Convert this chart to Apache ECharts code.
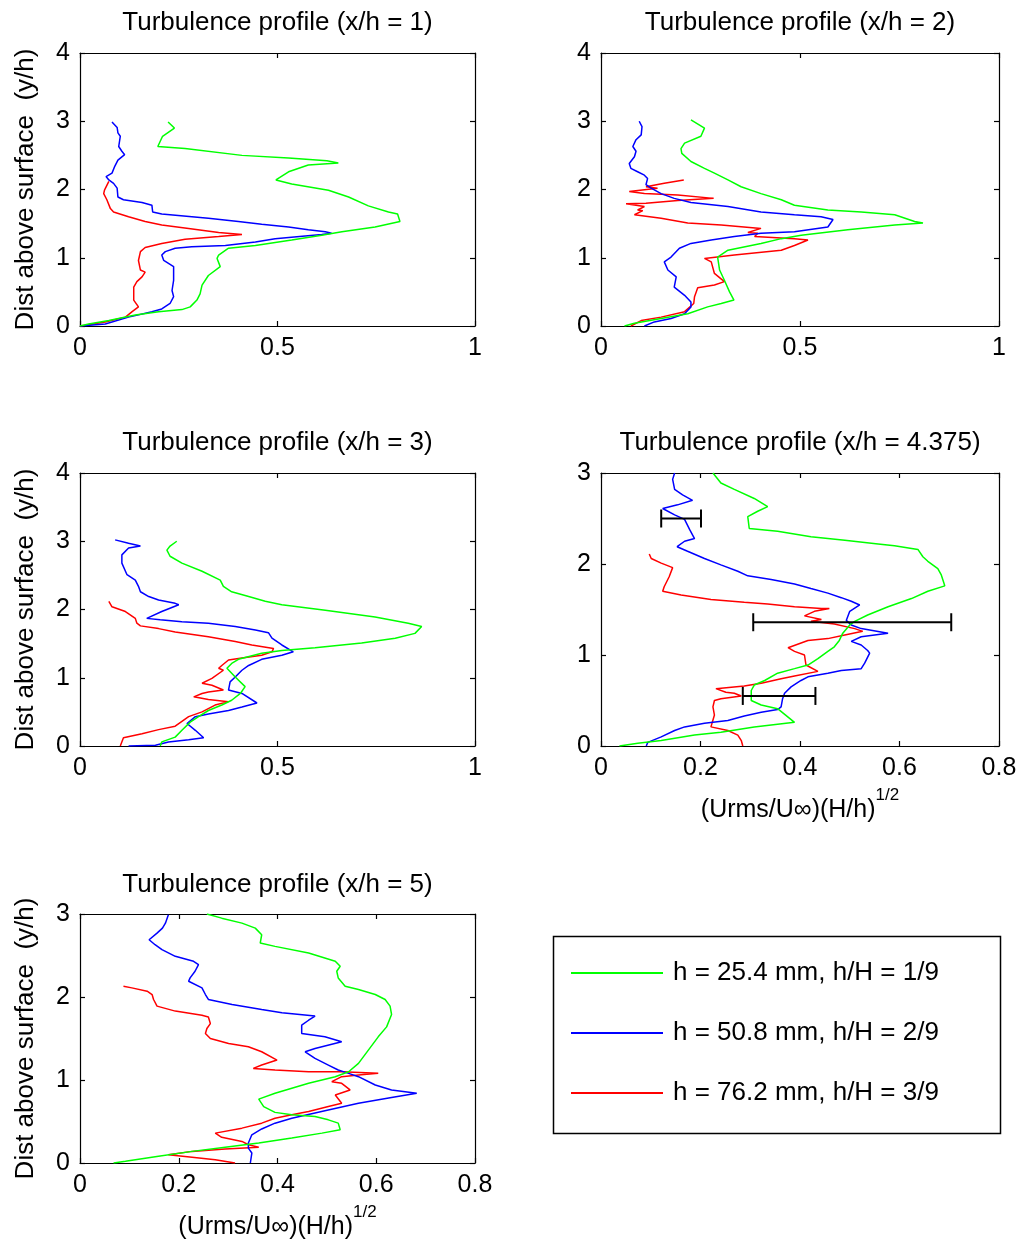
<!DOCTYPE html>
<html><head><meta charset="utf-8">
<script src="https://cdn.jsdelivr.net/npm/echarts/dist/echarts.min.js"></script>
<style>html,body{margin:0;padding:0;background:#fff}#c{width:1021px;height:1245px}</style>
</head><body><div id="c"></div><script>
// ---------- data ([x = (Urms/U∞)(H/h)^1/2, y = y/h]) ----------
const seriesNames = ['h = 25.4 mm, h/H = 1/9', 'h = 50.8 mm, h/H = 2/9', 'h = 76.2 mm, h/H = 3/9'];
const panelTitles = ['Turbulence profile (x/h = 1)', 'Turbulence profile (x/h = 2)', 'Turbulence profile (x/h = 3)', 'Turbulence profile (x/h = 4.375)', 'Turbulence profile (x/h = 5)'];
const xMaxes = [1, 1, 1, 0.8, 0.8];
const xIntervals = [0.5, 0.5, 0.5, 0.2, 0.2];
const yMaxes = [4, 4, 4, 3, 3];
const yAxisTitle = 'Dist above surface  (y/h)';

const p1_green = [[0.223,2.99],[0.239,2.90],[0.209,2.78],[0.197,2.63],[0.266,2.60],[0.410,2.50],[0.528,2.46],[0.625,2.42],[0.654,2.39],[0.578,2.36],[0.528,2.26],[0.496,2.14],[0.536,2.08],[0.629,1.99],[0.680,1.89],[0.730,1.76],[0.781,1.67],[0.804,1.64],[0.810,1.53],[0.747,1.45],[0.663,1.38],[0.612,1.33],[0.536,1.26],[0.444,1.18],[0.376,1.14],[0.351,1.04],[0.347,0.99],[0.355,0.87],[0.325,0.74],[0.309,0.60],[0.304,0.47],[0.296,0.38],[0.279,0.28],[0.258,0.24],[0.199,0.21],[0.140,0.16],[0.073,0.08],[0.022,0.03],[0,0]];
const p1_blue = [[0.081,2.99],[0.094,2.91],[0.096,2.83],[0.102,2.78],[0.098,2.63],[0.106,2.56],[0.113,2.51],[0.096,2.43],[0.088,2.34],[0.081,2.24],[0.066,2.19],[0.073,2.14],[0.085,2.09],[0.094,2.02],[0.096,1.89],[0.110,1.85],[0.157,1.81],[0.182,1.77],[0.184,1.67],[0.207,1.64],[0.325,1.58],[0.401,1.53],[0.460,1.49],[0.528,1.45],[0.578,1.41],[0.621,1.38],[0.637,1.36],[0.612,1.34],[0.570,1.32],[0.494,1.28],[0.444,1.23],[0.368,1.18],[0.283,1.16],[0.241,1.14],[0.216,1.09],[0.207,1.04],[0.212,0.96],[0.237,0.87],[0.237,0.67],[0.233,0.52],[0.237,0.43],[0.228,0.33],[0.207,0.25],[0.182,0.21],[0.123,0.13],[0.064,0.03],[0,0]];
const p1_red = [[0.073,2.12],[0.062,1.99],[0.060,1.94],[0.068,1.85],[0.077,1.72],[0.085,1.67],[0.123,1.60],[0.165,1.53],[0.207,1.48],[0.275,1.43],[0.351,1.37],[0.410,1.34],[0.351,1.31],[0.266,1.27],[0.207,1.21],[0.165,1.15],[0.153,1.09],[0.148,0.96],[0.153,0.82],[0.165,0.79],[0.157,0.72],[0.144,0.65],[0.136,0.57],[0.136,0.38],[0.148,0.28],[0.132,0.21],[0.115,0.13],[0.064,0.06],[0.013,0.01],[0,0]];

const p2_green = [[0.226,3.02],[0.260,2.90],[0.251,2.78],[0.210,2.68],[0.201,2.60],[0.203,2.53],[0.226,2.41],[0.260,2.31],[0.285,2.24],[0.319,2.14],[0.352,2.04],[0.402,1.94],[0.453,1.85],[0.486,1.77],[0.570,1.70],[0.654,1.67],[0.738,1.63],[0.788,1.53],[0.809,1.51],[0.738,1.48],[0.620,1.41],[0.503,1.33],[0.453,1.28],[0.402,1.21],[0.319,1.11],[0.293,1.01],[0.298,0.82],[0.310,0.67],[0.323,0.50],[0.334,0.38],[0.302,0.33],[0.268,0.28],[0.218,0.18],[0.151,0.11],[0.084,0.04],[0.059,0]];
const p2_blue = [[0.096,3.00],[0.103,2.92],[0.101,2.80],[0.088,2.73],[0.080,2.63],[0.088,2.56],[0.084,2.48],[0.071,2.38],[0.075,2.31],[0.092,2.26],[0.109,2.21],[0.117,2.16],[0.113,2.07],[0.126,2.02],[0.151,1.94],[0.184,1.87],[0.226,1.81],[0.319,1.75],[0.402,1.67],[0.486,1.63],[0.553,1.60],[0.583,1.56],[0.570,1.45],[0.486,1.38],[0.402,1.36],[0.335,1.31],[0.277,1.26],[0.226,1.21],[0.197,1.14],[0.176,1.01],[0.159,0.94],[0.168,0.82],[0.189,0.72],[0.184,0.57],[0.210,0.45],[0.226,0.35],[0.226,0.28],[0.210,0.18],[0.176,0.11],[0.134,0.06],[0.109,0]];
const p2_red = [[0.208,2.14],[0.159,2.09],[0.113,2.04],[0.142,2.02],[0.071,1.97],[0.109,1.94],[0.193,1.92],[0.283,1.87],[0.193,1.84],[0.113,1.80],[0.063,1.79],[0.109,1.75],[0.092,1.70],[0.105,1.69],[0.084,1.63],[0.151,1.58],[0.218,1.51],[0.302,1.48],[0.402,1.43],[0.369,1.37],[0.394,1.36],[0.386,1.31],[0.486,1.28],[0.520,1.26],[0.486,1.18],[0.453,1.11],[0.335,1.04],[0.260,0.99],[0.277,0.94],[0.285,0.77],[0.310,0.65],[0.285,0.60],[0.243,0.56],[0.235,0.43],[0.233,0.33],[0.210,0.21],[0.151,0.13],[0.101,0.08],[0.075,0]];

const p3_green = [[0.245,3.00],[0.228,2.93],[0.220,2.87],[0.228,2.78],[0.258,2.68],[0.309,2.56],[0.355,2.43],[0.363,2.34],[0.384,2.26],[0.427,2.19],[0.469,2.12],[0.511,2.07],[0.621,1.99],[0.747,1.89],[0.831,1.80],[0.865,1.75],[0.848,1.65],[0.798,1.58],[0.713,1.51],[0.595,1.44],[0.511,1.40],[0.460,1.36],[0.401,1.27],[0.384,1.21],[0.372,1.14],[0.393,1.01],[0.418,0.87],[0.406,0.77],[0.384,0.67],[0.359,0.60],[0.325,0.52],[0.300,0.43],[0.279,0.35],[0.258,0.23],[0.241,0.13],[0.207,0.06],[0.203,0]];
const p3_blue = [[0.089,3.02],[0.123,2.97],[0.153,2.93],[0.123,2.90],[0.106,2.80],[0.106,2.68],[0.119,2.51],[0.140,2.43],[0.148,2.34],[0.153,2.26],[0.174,2.19],[0.199,2.14],[0.241,2.09],[0.250,2.07],[0.207,1.97],[0.169,1.87],[0.203,1.85],[0.258,1.82],[0.325,1.80],[0.393,1.75],[0.444,1.70],[0.477,1.66],[0.486,1.58],[0.511,1.48],[0.540,1.38],[0.511,1.33],[0.460,1.27],[0.427,1.18],[0.410,1.11],[0.393,1.01],[0.380,0.94],[0.376,0.82],[0.410,0.77],[0.448,0.63],[0.410,0.57],[0.376,0.52],[0.325,0.47],[0.292,0.43],[0.271,0.33],[0.292,0.23],[0.313,0.12],[0.275,0.09],[0.224,0.06],[0.191,0.01],[0.123,0]];
const p3_red = [[0.073,2.12],[0.081,2.04],[0.115,1.97],[0.140,1.87],[0.144,1.80],[0.153,1.76],[0.199,1.72],[0.241,1.67],[0.325,1.60],[0.393,1.53],[0.435,1.48],[0.490,1.43],[0.486,1.38],[0.460,1.33],[0.410,1.29],[0.376,1.26],[0.359,1.18],[0.351,1.14],[0.363,1.11],[0.334,0.99],[0.309,0.92],[0.334,0.89],[0.363,0.82],[0.325,0.79],[0.309,0.77],[0.288,0.72],[0.325,0.68],[0.376,0.65],[0.342,0.60],[0.309,0.50],[0.275,0.43],[0.241,0.29],[0.199,0.24],[0.157,0.18],[0.110,0.12],[0.102,0]];

const p4_green = [[0.225,3.00],[0.241,2.89],[0.268,2.82],[0.308,2.72],[0.335,2.63],[0.315,2.58],[0.295,2.52],[0.298,2.39],[0.355,2.36],[0.422,2.30],[0.490,2.26],[0.557,2.22],[0.590,2.20],[0.637,2.16],[0.647,2.08],[0.657,2.03],[0.677,1.95],[0.684,1.88],[0.691,1.76],[0.657,1.70],[0.624,1.62],[0.577,1.53],[0.536,1.44],[0.510,1.37],[0.500,1.33],[0.486,1.24],[0.479,1.16],[0.469,1.09],[0.456,1.04],[0.436,0.96],[0.416,0.89],[0.389,0.85],[0.355,0.80],[0.329,0.72],[0.308,0.67],[0.302,0.61],[0.302,0.50],[0.322,0.45],[0.355,0.41],[0.389,0.26],[0.308,0.21],[0.241,0.15],[0.188,0.12],[0.121,0.06],[0.074,0.03],[0.037,0]];
const p4_blue = [[0.148,3.00],[0.144,2.93],[0.148,2.82],[0.164,2.76],[0.184,2.70],[0.154,2.65],[0.124,2.61],[0.148,2.54],[0.168,2.49],[0.178,2.38],[0.188,2.28],[0.168,2.25],[0.153,2.19],[0.174,2.14],[0.208,2.06],[0.241,1.99],[0.275,1.92],[0.295,1.87],[0.342,1.83],[0.389,1.78],[0.422,1.73],[0.456,1.68],[0.483,1.63],[0.503,1.59],[0.520,1.55],[0.500,1.48],[0.493,1.38],[0.503,1.33],[0.523,1.29],[0.577,1.24],[0.523,1.20],[0.503,1.15],[0.523,1.11],[0.536,1.05],[0.540,1.02],[0.530,0.91],[0.523,0.85],[0.483,0.83],[0.456,0.80],[0.416,0.76],[0.402,0.72],[0.382,0.65],[0.369,0.58],[0.365,0.52],[0.362,0.43],[0.355,0.40],[0.322,0.37],[0.288,0.33],[0.255,0.28],[0.208,0.25],[0.168,0.21],[0.148,0.17],[0.121,0.10],[0.094,0.04],[0.091,0]];
const p4_red = [[0.097,2.11],[0.101,2.06],[0.121,2.01],[0.144,1.96],[0.148,1.95],[0.137,1.86],[0.127,1.75],[0.124,1.70],[0.161,1.66],[0.221,1.61],[0.288,1.58],[0.335,1.56],[0.389,1.53],[0.443,1.51],[0.459,1.51],[0.429,1.48],[0.409,1.43],[0.443,1.39],[0.422,1.37],[0.469,1.34],[0.510,1.29],[0.526,1.26],[0.490,1.22],[0.456,1.18],[0.416,1.16],[0.376,1.08],[0.389,1.04],[0.409,1.00],[0.412,0.89],[0.436,0.82],[0.389,0.77],[0.362,0.74],[0.322,0.69],[0.288,0.66],[0.231,0.63],[0.251,0.59],[0.268,0.58],[0.282,0.55],[0.241,0.52],[0.228,0.50],[0.225,0.43],[0.228,0.34],[0.221,0.21],[0.255,0.17],[0.275,0.12],[0.282,0.06],[0.285,0]];
// horizontal error bars in panel x/h = 4.375
const p4_errY = [2.50, 1.36, 0.55];
const p4_errLo = [0.121, 0.306, 0.285];
const p4_errHi = [0.201, 0.704, 0.431];

const p5_green = [[0.257,3.00],[0.287,2.95],[0.328,2.89],[0.355,2.83],[0.368,2.75],[0.365,2.65],[0.395,2.61],[0.463,2.53],[0.517,2.43],[0.527,2.37],[0.520,2.31],[0.523,2.23],[0.537,2.13],[0.564,2.09],[0.598,2.03],[0.618,1.97],[0.628,1.89],[0.631,1.79],[0.621,1.64],[0.604,1.52],[0.584,1.36],[0.564,1.20],[0.544,1.10],[0.517,1.04],[0.463,0.96],[0.395,0.84],[0.362,0.77],[0.372,0.68],[0.395,0.61],[0.429,0.58],[0.476,0.56],[0.503,0.52],[0.523,0.48],[0.527,0.40],[0.490,0.36],[0.429,0.30],[0.362,0.24],[0.294,0.19],[0.227,0.14],[0.159,0.08],[0.092,0.02],[0.068,0]];
const p5_blue = [[0.179,2.99],[0.173,2.89],[0.167,2.83],[0.156,2.77],[0.140,2.69],[0.152,2.63],[0.166,2.57],[0.193,2.49],[0.230,2.43],[0.240,2.39],[0.233,2.31],[0.223,2.23],[0.220,2.19],[0.247,2.11],[0.254,2.03],[0.260,1.97],[0.308,1.91],[0.368,1.85],[0.409,1.81],[0.476,1.77],[0.463,1.72],[0.449,1.66],[0.449,1.56],[0.496,1.52],[0.530,1.46],[0.476,1.38],[0.456,1.34],[0.476,1.26],[0.503,1.18],[0.523,1.12],[0.544,1.08],[0.564,1.04],[0.598,0.94],[0.631,0.88],[0.682,0.84],[0.631,0.79],[0.564,0.72],[0.496,0.63],[0.429,0.54],[0.395,0.48],[0.368,0.41],[0.348,0.34],[0.341,0.24],[0.341,0.18],[0.348,0.12],[0.345,0]];
const p5_red = [[0.088,2.13],[0.105,2.11],[0.136,2.07],[0.146,2.03],[0.149,1.97],[0.156,1.89],[0.193,1.83],[0.247,1.78],[0.260,1.76],[0.264,1.68],[0.257,1.62],[0.254,1.56],[0.264,1.50],[0.301,1.44],[0.341,1.40],[0.368,1.34],[0.399,1.24],[0.368,1.18],[0.351,1.14],[0.395,1.12],[0.463,1.10],[0.530,1.10],[0.604,1.08],[0.564,1.06],[0.530,1.04],[0.510,0.98],[0.530,0.96],[0.547,0.88],[0.517,0.82],[0.530,0.72],[0.503,0.68],[0.463,0.62],[0.429,0.58],[0.395,0.54],[0.368,0.48],[0.328,0.42],[0.274,0.36],[0.287,0.31],[0.328,0.26],[0.341,0.22],[0.362,0.19],[0.294,0.17],[0.227,0.14],[0.179,0.10],[0.227,0.07],[0.274,0.04],[0.314,0]];

const panelData = [
  [p1_green, p1_blue, p1_red],
  [p2_green, p2_blue, p2_red],
  [p3_green, p3_blue, p3_red],
  [p4_green, p4_blue, p4_red],
  [p5_green, p5_blue, p5_red]
];

// ---------- layout / style ----------
const FONT = '"Liberation Sans", Arial, sans-serif';
const colors = ['#00ff00', '#0000ff', '#ff0000'];
const grids = [
  {left: 80, top: 53, width: 395, height: 273},
  {left: 601, top: 53, width: 398, height: 273},
  {left: 80, top: 473, width: 395, height: 273},
  {left: 601, top: 473, width: 398, height: 273},
  {left: 80, top: 914, width: 395, height: 249}
];
const titleY = [23, 23, 443, 443, 885];
const showYName = [true, false, true, false, true];
const showXName = [false, false, false, true, true];

const axisLineStyle = {show: true, onZero: false, lineStyle: {color: '#000', width: 1.2}};
const tickStyle = {show: true, inside: true, length: 5, lineStyle: {color: '#000', width: 1.2}};

const xAxes = [], yAxes = [], titles = [], series = [];
grids.forEach((g, i) => {
  const xBase = {type: 'value', gridIndex: i, min: 0, max: xMaxes[i], interval: xIntervals[i],
    splitLine: {show: false}, axisLine: axisLineStyle, axisTick: tickStyle};
  const yBase = {type: 'value', gridIndex: i, min: 0, max: yMaxes[i], interval: 1,
    splitLine: {show: false}, axisLine: axisLineStyle, axisTick: tickStyle};
  const xMain = Object.assign({}, xBase, {position: 'bottom',
    axisLabel: {show: true, margin: 10, fontSize: 25, fontFamily: FONT, color: '#000', showMinLabel: true, showMaxLabel: true}});
  if (showXName[i]) {
    Object.assign(xMain, {
      name: '{n|(Urms/U∞)(H/h)}{s|1/2}', nameLocation: 'middle', nameGap: 50,
      nameTextStyle: {fontFamily: FONT, color: '#000', rich: {
        n: {fontSize: 25, fontFamily: FONT, color: '#000', lineHeight: 28},
        s: {fontSize: 17, fontFamily: FONT, color: '#000', lineHeight: 17, padding: [0, 0, 30, 0]}
      }}
    });
  }
  const yMain = Object.assign({}, yBase, {position: 'left',
    axisLabel: {show: true, margin: 10, fontSize: 25, fontFamily: FONT, color: '#000', showMinLabel: true, showMaxLabel: true}});
  if (showYName[i]) {
    Object.assign(yMain, {name: yAxisTitle, nameLocation: 'middle', nameGap: 41,
      nameTextStyle: {fontSize: 26, fontFamily: FONT, color: '#000'}});
  }
  xAxes.push(xMain, Object.assign({}, xBase, {position: 'top', axisLabel: {show: false}}));
  yAxes.push(yMain, Object.assign({}, yBase, {position: 'right', axisLabel: {show: false}}));
  titles.push({text: panelTitles[i], left: g.left + g.width / 2, top: titleY[i], textAlign: 'center',
    textVerticalAlign: 'middle', padding: 0,
    textStyle: {fontSize: 26, fontWeight: 'normal', fontFamily: FONT, color: '#000'}});
  panelData[i].forEach((d, k) => {
    series.push({type: 'line', name: seriesNames[k], xAxisIndex: 2 * i, yAxisIndex: 2 * i,
      data: d, symbol: 'none', showSymbol: false, smooth: false, lineStyle: {color: colors[k], width: 1.5},
      itemStyle: {color: colors[k]}, z: 5 - k});
  });
});

series.push({
  type: 'custom', xAxisIndex: 6, yAxisIndex: 6, z: 10,
  data: p4_errY.map((y, j) => [p4_errLo[j], p4_errHi[j], y]),
  encode: {x: [0, 1], y: 2},
  renderItem: function (params, api) {
    const lo = api.coord([api.value(0), api.value(2)]);
    const hi = api.coord([api.value(1), api.value(2)]);
    const c = 9;
    const st = {stroke: '#000', lineWidth: 2};
    return {type: 'group', children: [
      {type: 'line', shape: {x1: lo[0], y1: lo[1], x2: hi[0], y2: hi[1]}, style: st},
      {type: 'line', shape: {x1: lo[0], y1: lo[1] - c, x2: lo[0], y2: lo[1] + c}, style: st},
      {type: 'line', shape: {x1: hi[0], y1: hi[1] - c, x2: hi[0], y2: hi[1] + c}, style: st}
    ]};
  }
});

const chart = echarts.init(document.getElementById('c'), null, {renderer: 'canvas'});
chart.setOption({
  animation: false,
  backgroundColor: '#fff',
  grid: grids.map(g => Object.assign({containLabel: false, outerBoundsMode: 'none'}, g)),
  title: titles,
  xAxis: xAxes,
  yAxis: yAxes,
  legend: {
    data: seriesNames.map(n => ({name: n, icon: 'rect'})), orient: 'vertical', left: 571, top: 958, padding: 0,
    itemWidth: 92, itemHeight: 2, itemGap: 30, selectedMode: false,
    textStyle: {fontSize: 26, fontFamily: FONT, color: '#000', lineHeight: 30, padding: [0, 0, 0, 5]}
  },
  graphic: [{type: 'rect', z: -1, silent: true,
    shape: {x: 553.5, y: 936.5, width: 447, height: 197},
    style: {fill: '#fff', stroke: '#000', lineWidth: 1.5}}],
  series: series
});
</script></body></html>
